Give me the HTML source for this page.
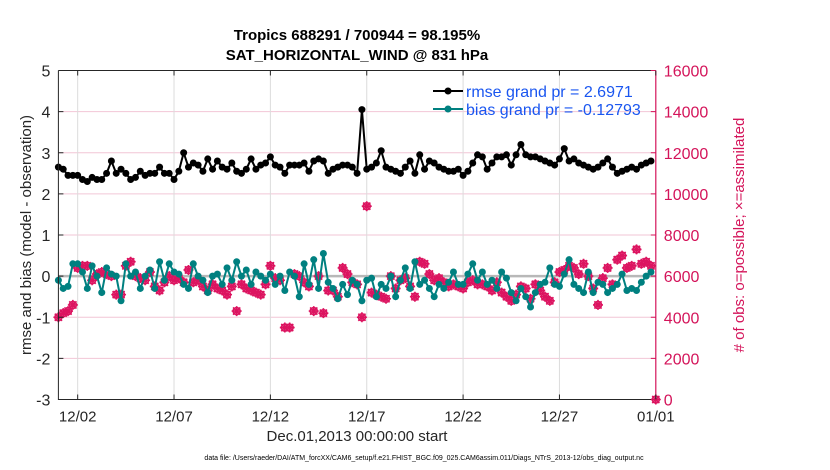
<!DOCTYPE html>
<html><head><meta charset="utf-8"><style>
body{margin:0;background:#fff;}
svg{display:block;font-family:"Liberation Sans",Arial,sans-serif;}
</style></head><body>
<svg id="chart" width="830" height="470" viewBox="0 0 830 470">
<g id="grid"></g>
<g id="series"></g>
<g id="axes"></g>
<text x="357" y="40" text-anchor="middle" font-size="15" font-weight="bold" fill="#000">Tropics 688291 / 700944 = 98.195%</text>
<text x="357" y="60" text-anchor="middle" font-size="15" font-weight="bold" fill="#000">SAT_HORIZONTAL_WIND @ 831 hPa</text>
<text transform="translate(31,235) rotate(-90)" text-anchor="middle" font-size="15" fill="#262626">rmse and bias (model - observation)</text>
<text transform="translate(744,235) rotate(-90)" text-anchor="middle" font-size="15" fill="#d4145a"># of obs: o=possible; ×=assimilated</text>
<text x="357" y="441" text-anchor="middle" font-size="15" fill="#262626">Dec.01,2013 00:00:00 start</text>
<text x="424" y="460" text-anchor="middle" font-size="7" fill="#000">data file: /Users/raeder/DAI/ATM_forcXX/CAM6_setup/f.e21.FHIST_BGC.f09_025.CAM6assim.011/Diags_NTrS_2013-12/obs_diag_output.nc</text>
<g>
<line x1="433" y1="91" x2="463" y2="91" stroke="#000" stroke-width="2"/>
<circle cx="448" cy="91" r="3.5" fill="#000"/>
<text x="466" y="97" font-size="16" fill="#1a56f0">rmse grand pr = 2.6971</text>
<line x1="433" y1="109" x2="463" y2="109" stroke="#008080" stroke-width="2"/>
<circle cx="448" cy="109" r="3.5" fill="#008080"/>
<text x="466" y="115" font-size="16" fill="#1a56f0">bias grand pr = -0.12793</text>
</g>
</svg>
<script>
const rmse=[2.65,2.6,2.45,2.45, 2.45,2.35,2.3,2.4, 2.35,2.35,2.5,2.8, 2.5,2.6,2.5,2.35, 2.4,2.55,2.45,2.5, 2.5,2.65,2.5,2.5,
2.35,2.55,3.0,2.65, 2.75,2.7,2.55,2.85, 2.6,2.8,2.65,2.6, 2.75,2.55,2.5,2.6, 2.85,2.6,2.7,2.75, 2.9,2.7,2.65,2.5,
2.7,2.7,2.7,2.75, 2.55,2.8,2.85,2.8, 2.5,2.6,2.65,2.7, 2.7,2.65,2.5,4.05, 2.6,2.65,2.75,3.05, 2.65,2.6,2.55,2.5,
2.65,2.8,2.5,2.95, 2.6,2.8,2.75,2.65, 2.6,2.55,2.55,2.6, 2.45,2.55,2.75,2.95, 2.9,2.6,2.75,2.9, 2.9,2.95,2.7,2.95,
3.2,2.95,2.9,2.9, 2.85,2.8,2.75,2.7, 2.85,3.1,2.8,2.85, 2.75,2.7,2.65,2.6, 2.65,2.75,2.85,2.65, 2.5,2.55,2.6,2.65, 2.6,2.7,2.75,2.8];
const bias=[-0.1,-0.3,-0.25,0.3, 0.3,0.1,-0.3,0.25, 0.0,-0.4,0.2,0.05, 0.0,-0.6,0.3,0.0, 0.1,-0.3,0.0,0.15, -0.3,0.35,-0.1,0.3,
0.1,0.05,-0.2,-0.3, 0.3,0.0,-0.1,-0.4, 0.0,0.05,-0.2,0.2, -0.1,0.35,0.0,0.15, -0.2,0.1,0.0,-0.1, 0.05,-0.2,0.0,-0.35,
0.1,0.0,-0.5,0.3, -0.2,0.4,-0.3,0.55, -0.15,-0.3,-0.55,-0.2, -0.45,-0.1,-0.2,-0.6, -0.1,-0.05,-0.5,-0.2, -0.3,0.0,-0.5,-0.1,
0.2,-0.3,0.35,-0.2, -0.1,-0.3,-0.5,-0.2, -0.3,-0.15,0.1,-0.2, -0.2,0.05,0.3,-0.1, 0.1,-0.2,-0.1,-0.3, 0.1,-0.05,-0.4,-0.6,
-0.3,-0.5,-0.75,-0.4, -0.2,-0.15,0.2,-0.2, -0.25,0.05,0.4,-0.2, -0.3,-0.4,0.1,-0.4, -0.15,-0.2,-0.4,-0.3, -0.2,0.05,-0.35,-0.3, -0.35,-0.15,0.0,0.1];
const nobs=[4000,4200,4300,4600, 6400,6500,6500,5800, 6100,6200,6100,6000, 5100,5100,6500,6700, 6000,5900,5800,6200, 5500,5300,5700,6000,
5800,5900,5700,6300, 5700,5800,5500,5300, 5600,5400,5300,5100, 5500,4300,5600,5400, 5300,5200,5100,5600, 6500,5900,5800,3500,
3500,6100,6000,5700, 5500,4300,6000,4200, 5300,5300,5000,6400, 6100,5700,5600,4000, 9400,5200,5100,5000, 4900,6000,5400,5800,
5900,5500,5000,6700, 6600,6100,5800,5900, 5700,5500,5600,5500, 5400,5700,5800,5600, 5600,5500,5300,5700, 5200,5000,4800,5100,
5500,5400,4900,5600, 5300,5000,4800,5700, 6200,6300,6500,6400, 6100,6600,6000,5400, 4600,5900,6400,5600, 6800,7000,6400,6500, 7300,6600,6700,6500, 0];
const xTickLabels=["12/02","12/07","12/12","12/17","12/22","12/27","01/01"];
const xTickDays=[1,6,11,16,21,26,31];
const yLeftTicks=[-3,-2,-1,0,1,2,3,4,5];
const yRightTicks=[0,2000,4000,6000,8000,10000,12000,14000,16000];

const L=58.4,R=655.8,T=70.5,B=399.5;
const xDay=d=>L+(d/31)*(R-L);
const xIdx=i=>xDay(i*0.25);
const yL=v=>B-(v+3)/8*(B-T);
const yR=v=>B-v/16000*(B-T);
const NS="http://www.w3.org/2000/svg";
function mk(tag,attrs,parent){const e=document.createElementNS(NS,tag);for(const k in attrs)e.setAttribute(k,attrs[k]);parent.appendChild(e);return e;}
const grid=document.getElementById('grid'),series=document.getElementById('series'),axes=document.getElementById('axes');

yLeftTicks.forEach(v=>{if(v>-3&&v<5&&v!==0){const g=mk('line',{x1:L,x2:R,y1:yL(v),y2:yL(v),stroke:'#f2c6d6','stroke-width':1},grid);

}});
xTickDays.forEach(d=>{if(d<31){const g=mk('line',{x1:xDay(d),x2:xDay(d),y1:T,y2:B,stroke:'#dcdcdc','stroke-width':1},grid);

}});
const zl=mk('line',{x1:L,x2:R,y1:yL(0),y2:yL(0),stroke:'#b8b8b8','stroke-width':2.5},grid);



nobs.forEach((v,i)=>{const cx=xIdx(i),cy=yR(v);
const g=mk('g',{},series);


mk('circle',{cx:cx,cy:cy,r:3.5,fill:'none',stroke:'#dc1460','stroke-width':1.6},g);
mk('path',{d:`M${cx-5} ${cy}H${cx+5}M${cx} ${cy-5}V${cy+5}M${cx-3.6} ${cy-3.6}L${cx+3.6} ${cy+3.6}M${cx-3.6} ${cy+3.6}L${cx+3.6} ${cy-3.6}`,stroke:'#dc1460','stroke-width':1.6},g);});

function drawSeries(arr,color,name){
const p=mk('polyline',{points:arr.map((v,i)=>xIdx(i)+','+yL(v)).join(' '),fill:'none',stroke:color,'stroke-width':2},series);


arr.forEach((v,i)=>{const c=mk('circle',{cx:xIdx(i),cy:yL(v),r:3.5,fill:color},series);

});}
drawSeries(bias,'#008080','bias');
drawSeries(rmse,'#000000','rmse');

const fr=mk('path',{d:`M${L} ${T}H${R}M${L} ${T}V${B}H${R}`,stroke:'#262626',fill:'none','stroke-width':1},axes);


const ra=mk('line',{x1:R,x2:R,y1:T,y2:B,stroke:'#d4145a','stroke-width':1.2},axes);


xTickDays.forEach((d,k)=>{const x=xDay(d);
mk('line',{x1:x,x2:x,y1:B,y2:B-5,stroke:'#262626'},axes);
mk('line',{x1:x,x2:x,y1:T,y2:T+5,stroke:'#262626'},axes);
const t=mk('text',{x:x,y:B+22,'text-anchor':'middle','font-size':15,fill:'#262626'},axes);t.textContent=xTickLabels[k];

});
yLeftTicks.forEach(v=>{const y=yL(v);
mk('line',{x1:L,x2:L+5,y1:y,y2:y,stroke:'#262626'},axes);
const t=mk('text',{x:L-8,y:y+6,'text-anchor':'end','font-size':16,fill:'#262626'},axes);t.textContent=v;

});
yRightTicks.forEach(v=>{const y=yR(v);
mk('line',{x1:R,x2:R-5,y1:y,y2:y,stroke:'#d4145a'},axes);
const t=mk('text',{x:R+8,y:y+6,'text-anchor':'start','font-size':16,fill:'#d4145a'},axes);t.textContent=v;

});
</script>
</body></html>
